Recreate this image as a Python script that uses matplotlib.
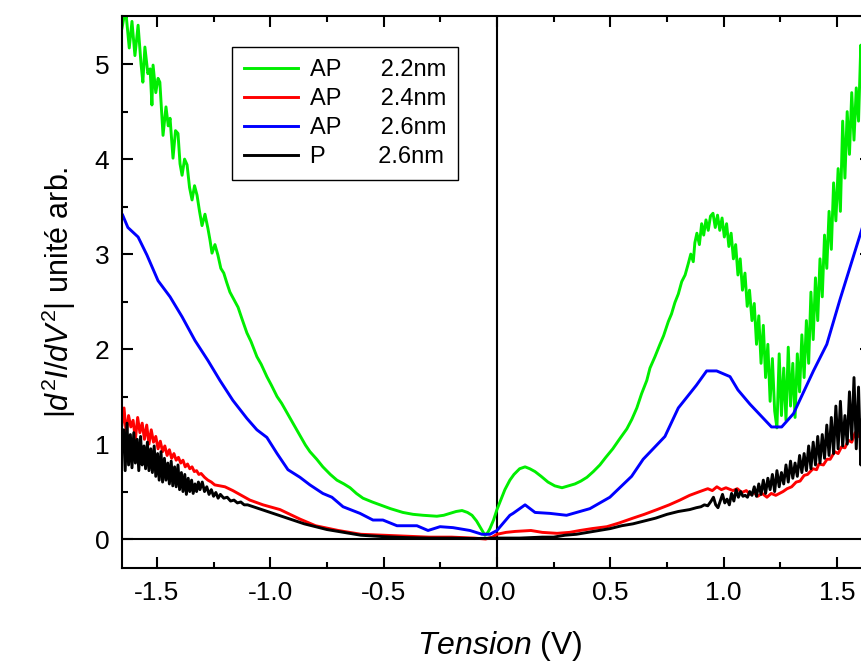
import numpy as np
import matplotlib
matplotlib.use('Agg')
import matplotlib.pyplot as plt
from matplotlib.ticker import MultipleLocator

plt.rcParams['font.family'] = ['Liberation Sans', 'DejaVu Sans']
plt.rcParams['mathtext.fontset'] = 'custom'
plt.rcParams['mathtext.rm'] = 'Liberation Sans'
plt.rcParams['mathtext.it'] = 'Liberation Sans:italic'

# --- data (tension in V, |d2I/dV2| arb. units) ---
ap22_v = [-1.654, -1.645, -1.635, -1.622, -1.610, -1.597, -1.583, -1.570, -1.562, -1.553,
          -1.540, -1.530, -1.522, -1.517, -1.505, -1.495, -1.487, -1.473, -1.460, -1.450,
          -1.442, -1.429, -1.418, -1.407, -1.398, -1.389, -1.378, -1.367, -1.356, -1.345,
          -1.334, -1.323, -1.312, -1.301, -1.288, -1.275, -1.266, -1.257, -1.244, -1.231,
          -1.218, -1.205, -1.192, -1.178,
          -1.160, -1.142, -1.125, -1.103, -1.085, -1.059, -1.040, -1.015, -0.995, -0.970,
          -0.950, -0.926, -0.900, -0.869, -0.845, -0.825, -0.795, -0.768, -0.735, -0.706,
          -0.675, -0.648, -0.620, -0.591, -0.550, -0.516, -0.470, -0.415, -0.370, -0.326,
          -0.265, -0.235, -0.207, -0.180, -0.154, -0.130, -0.110, -0.090, -0.075, -0.053,
          -0.040, -0.031, -0.015, 0.000, 0.015, 0.035, 0.057, 0.075, 0.100, 0.124,
          0.145, 0.168, 0.195, 0.225, 0.255, 0.287, 0.315, 0.344, 0.370, 0.397,
          0.425, 0.454, 0.480, 0.511, 0.540, 0.573, 0.595, 0.617, 0.638, 0.661,
          0.675, 0.697, 0.719, 0.735, 0.756, 0.770, 0.785, 0.800, 0.815, 0.830, 0.844,
          0.855, 0.866, 0.873, 0.882, 0.893, 0.903, 0.912, 0.922, 0.932, 0.942,
          0.953, 0.963, 0.973, 0.983, 0.993, 1.003, 1.013, 1.023, 1.033, 1.043,
          1.053, 1.063, 1.073, 1.083, 1.094, 1.104, 1.114, 1.125, 1.135, 1.145,
          1.155, 1.165, 1.175, 1.185, 1.195, 1.205, 1.215, 1.225, 1.235, 1.245,
          1.255, 1.265, 1.275, 1.285, 1.295, 1.305, 1.315, 1.325, 1.335, 1.345,
          1.355, 1.365, 1.375, 1.385, 1.395, 1.405, 1.415, 1.425, 1.435, 1.445,
          1.455, 1.465, 1.475, 1.485, 1.495, 1.505, 1.515, 1.525, 1.535, 1.545,
          1.555, 1.565, 1.575, 1.585, 1.595, 1.605, 1.615]
ap22_d = [5.38, 5.50, 5.50, 5.17, 5.45, 5.09, 5.41, 5.00, 4.81, 5.18,
          4.90, 4.95, 4.57, 4.99, 4.70, 4.85, 4.81, 4.25, 4.55, 4.35,
          4.43, 4.01, 4.30, 4.27, 3.95, 3.83, 4.00, 3.94, 3.70, 3.57,
          3.72, 3.62, 3.45, 3.30, 3.42, 3.27, 3.15, 3.01, 3.10, 2.99,
          2.85, 2.80, 2.70, 2.60,
          2.52, 2.44, 2.32, 2.17, 2.08, 1.92, 1.84, 1.71, 1.62, 1.50,
          1.43, 1.33, 1.22, 1.09, 0.99, 0.92, 0.84, 0.76, 0.68, 0.62,
          0.58, 0.54, 0.48, 0.43, 0.39, 0.36, 0.32, 0.28, 0.26, 0.25,
          0.24, 0.25, 0.27, 0.29, 0.30, 0.28, 0.25, 0.19, 0.13, 0.04,
          0.07, 0.11, 0.20, 0.31, 0.40, 0.52, 0.62, 0.68, 0.74, 0.76,
          0.74, 0.71, 0.66, 0.60, 0.56, 0.54, 0.56, 0.58, 0.61, 0.65,
          0.71, 0.78, 0.86, 0.95, 1.05, 1.16, 1.26, 1.38, 1.53, 1.67,
          1.80, 1.92, 2.05, 2.14, 2.29, 2.37, 2.49, 2.58, 2.71, 2.78, 2.90,
          3.00, 2.92, 3.12, 3.22, 3.10, 3.32, 3.20, 3.36, 3.25, 3.40,
          3.43, 3.28, 3.41, 3.25, 3.38, 3.18, 3.32, 3.08, 3.22, 2.95,
          3.10, 2.78, 2.95, 2.62, 2.80, 2.45, 2.62, 2.30, 2.48, 2.05,
          2.35, 1.85, 2.25, 1.70, 2.05, 1.45, 1.90, 1.35, 1.17, 1.95,
          1.30, 1.80, 1.25, 2.02, 1.40, 1.85, 1.28, 1.95, 1.55, 2.15,
          1.70, 2.30, 1.85, 2.60, 2.10, 2.75, 2.30, 2.95, 2.55, 3.20,
          2.85, 3.45, 3.05, 3.75, 3.35, 3.90, 3.45, 4.40, 3.80, 4.50,
          4.05, 4.70, 4.20, 4.75, 4.40, 5.20, 4.60]

ap24_v = [-1.654, -1.645, -1.635, -1.625, -1.615, -1.605, -1.595, -1.585, -1.575, -1.565,
          -1.555, -1.545, -1.535, -1.525, -1.515, -1.505, -1.495, -1.485, -1.475, -1.465,
          -1.455, -1.445, -1.435, -1.425, -1.415, -1.405, -1.395, -1.385, -1.375, -1.365,
          -1.355, -1.345, -1.335, -1.325, -1.315, -1.305, -1.290, -1.275, -1.260, -1.245,
          -1.200, -1.165, -1.090, -1.032, -0.957, -0.869, -0.800, -0.700, -0.600, -0.500,
          -0.400, -0.300, -0.200, -0.100, -0.050, -0.020, 0.000, 0.040, 0.080, 0.150,
          0.200, 0.265, 0.320, 0.366, 0.420, 0.485, 0.540, 0.600, 0.650, 0.706,
          0.760, 0.807, 0.850, 0.895, 0.930, 0.950, 0.970, 0.990, 1.010, 1.041,
          1.060, 1.080, 1.100, 1.116, 1.135, 1.150, 1.170, 1.191, 1.210, 1.230,
          1.262, 1.280, 1.300, 1.320, 1.337, 1.355, 1.370, 1.394, 1.410, 1.420,
          1.440, 1.456, 1.470, 1.490, 1.505, 1.520, 1.535, 1.550, 1.565, 1.580,
          1.595, 1.612]
ap24_d = [1.20, 1.38, 1.10, 1.30, 1.18, 1.25, 1.05, 1.28, 1.12, 1.22,
          1.05, 1.20, 1.00, 1.15, 1.02, 1.08, 0.95, 1.03, 0.92, 0.98,
          0.88, 0.94, 0.85, 0.90, 0.83, 0.86, 0.80, 0.83, 0.76, 0.79,
          0.74, 0.76, 0.71, 0.72, 0.68, 0.69, 0.65, 0.62, 0.60, 0.57,
          0.55, 0.51, 0.41, 0.36, 0.31, 0.21, 0.14, 0.09, 0.05, 0.04,
          0.03, 0.02, 0.02, 0.01, 0.00, 0.02, 0.05, 0.07, 0.08, 0.09,
          0.07, 0.06, 0.07, 0.09, 0.11, 0.13, 0.17, 0.22, 0.26, 0.31,
          0.36, 0.41, 0.46, 0.50, 0.53, 0.51, 0.55, 0.52, 0.54, 0.51,
          0.53, 0.49, 0.51, 0.47, 0.49, 0.45, 0.48, 0.44, 0.48, 0.46,
          0.50, 0.53, 0.55, 0.60, 0.61, 0.67, 0.68, 0.74, 0.73, 0.79,
          0.78, 0.84, 0.84, 0.92, 0.90, 0.97, 0.96, 1.04, 1.02, 1.12,
          1.08, 1.20]

ap26_v = [-1.651, -1.628, -1.583, -1.544, -1.495, -1.442, -1.389, -1.332, -1.275, -1.222,
          -1.165, -1.103, -1.059, -1.015, -0.970, -0.922, -0.869, -0.825, -0.768, -0.728,
          -0.679, -0.604, -0.547, -0.503, -0.441, -0.353, -0.304, -0.251, -0.194, -0.119,
          -0.066, -0.031, 0.000, 0.057, 0.071, 0.124, 0.168, 0.234, 0.307, 0.410,
          0.498, 0.594, 0.645, 0.741, 0.800, 0.880, 0.925, 0.969, 1.028, 1.063,
          1.116, 1.211, 1.256, 1.308, 1.396, 1.455, 1.513, 1.612]
ap26_d = [3.41, 3.28, 3.18, 2.99, 2.72, 2.55, 2.34, 2.09, 1.88, 1.67,
          1.46, 1.27, 1.15, 1.07, 0.90, 0.73, 0.65, 0.57, 0.48, 0.44,
          0.34, 0.27, 0.20, 0.20, 0.14, 0.14, 0.09, 0.13, 0.12, 0.09,
          0.05, 0.05, 0.09, 0.25, 0.27, 0.36, 0.28, 0.27, 0.25, 0.32,
          0.44, 0.66, 0.84, 1.08, 1.38, 1.62, 1.77, 1.77, 1.71, 1.57,
          1.42, 1.18, 1.18, 1.32, 1.77, 2.05, 2.52, 3.28]

p26_v = [-1.654, -1.647, -1.640, -1.632, -1.625, -1.617, -1.610, -1.602, -1.595, -1.587,
         -1.580, -1.572, -1.565, -1.557, -1.550, -1.542, -1.535, -1.527, -1.520, -1.512,
         -1.505, -1.497, -1.490, -1.482, -1.475, -1.467, -1.460, -1.452, -1.445, -1.437,
         -1.430, -1.422, -1.415, -1.407, -1.400, -1.392, -1.385, -1.377, -1.370, -1.362,
         -1.355, -1.347, -1.340, -1.332, -1.325, -1.317, -1.310, -1.300, -1.290, -1.280,
         -1.270, -1.260, -1.250, -1.240, -1.230, -1.220, -1.205, -1.190, -1.175, -1.160,
         -1.145, -1.130, -1.115, -1.100,
         -1.050, -1.000, -0.950, -0.900, -0.850, -0.800, -0.750, -0.700, -0.650, -0.600,
         -0.500, -0.400, -0.300, -0.200, -0.100, 0.000, 0.100, 0.200, 0.250, 0.300,
         0.350, 0.400, 0.450, 0.500, 0.550, 0.600, 0.650, 0.700, 0.750, 0.800,
         0.850, 0.880,
         0.900, 0.915, 0.930, 0.945, 0.955, 0.965, 0.975, 0.985, 0.995, 1.005,
         1.015, 1.025, 1.035, 1.045, 1.055, 1.065, 1.075, 1.085, 1.095, 1.105,
         1.115, 1.125, 1.135, 1.145, 1.155, 1.165, 1.175, 1.185, 1.195, 1.205,
         1.215, 1.225, 1.235, 1.245, 1.255, 1.265, 1.275, 1.285, 1.295, 1.305,
         1.315, 1.325, 1.335, 1.345, 1.355, 1.365, 1.375, 1.385, 1.395, 1.405,
         1.415, 1.425, 1.435, 1.445, 1.455, 1.465, 1.475, 1.485, 1.495, 1.505,
         1.515, 1.525, 1.535, 1.545, 1.555, 1.565, 1.575, 1.585, 1.595, 1.605, 1.612]
p26_d = [0.95, 1.15, 0.72, 1.22, 0.78, 1.10, 0.75, 1.12, 0.80, 1.05,
         0.72, 1.08, 0.78, 0.98, 0.74, 1.02, 0.72, 0.95, 0.70, 0.98,
         0.66, 0.90, 0.62, 0.92, 0.60, 0.85, 0.62, 0.80, 0.58, 0.82,
         0.56, 0.76, 0.55, 0.78, 0.52, 0.70, 0.50, 0.68, 0.47, 0.64,
         0.50, 0.62, 0.48, 0.58, 0.50, 0.60, 0.52, 0.60, 0.50, 0.55,
         0.47, 0.52, 0.45, 0.49, 0.43, 0.47, 0.43, 0.44, 0.40, 0.41,
         0.38, 0.39, 0.36, 0.36,
         0.32, 0.28, 0.24, 0.20, 0.16, 0.13, 0.10, 0.08, 0.06, 0.04,
         0.025, 0.015, 0.01, 0.01, 0.005, 0.01, 0.01, 0.02, 0.02, 0.04,
         0.05, 0.07, 0.09, 0.11, 0.14, 0.16, 0.19, 0.22, 0.26, 0.29,
         0.31, 0.33,
         0.34, 0.36, 0.35, 0.40, 0.44, 0.36, 0.33, 0.40, 0.47, 0.38,
         0.42, 0.36, 0.48, 0.40, 0.52, 0.44, 0.50, 0.45, 0.46, 0.44,
         0.50, 0.46, 0.55, 0.45, 0.58, 0.47, 0.62, 0.48, 0.64, 0.52,
         0.68, 0.50, 0.72, 0.55, 0.70, 0.58, 0.78, 0.60, 0.82, 0.64,
         0.80, 0.66, 0.88, 0.70, 0.90, 0.72, 0.98, 0.74, 1.02, 0.78,
         1.08, 0.80, 1.10, 0.85, 1.20, 0.88, 1.28, 0.90, 1.40, 0.95,
         1.45, 0.98, 1.30, 1.00, 1.55, 1.05, 1.70, 0.95, 1.60, 0.78, 1.40]

series = [
    (ap22_v, ap22_d, '#00ee00', 'AP      2.2nm'),
    (ap24_v, ap24_d, '#ff0000', 'AP      2.4nm'),
    (ap26_v, ap26_d, '#0000ff', 'AP      2.6nm'),
    (p26_v, p26_d, '#000000', 'P        2.6nm'),
]

fig = plt.figure(figsize=(8.62, 6.63), dpi=100)
W, H = 862, 663
ax = fig.add_axes([122 / W, (H - 568) / H, (871 - 122) / W, (568 - 15.7) / H])

for v, d, c, lab in series:
    ax.plot(v, d, color=c, lw=2.1, label=lab)

ax.axhline(0, color='black', lw=1.5, zorder=1)
ax.axvline(0, color='black', lw=1.5, zorder=1)

ax.set_xlim(-1.654, 1.65)
ax.set_ylim(-0.305, 5.51)
ax.xaxis.set_major_locator(MultipleLocator(0.5))
ax.xaxis.set_minor_locator(MultipleLocator(0.25))
ax.yaxis.set_major_locator(MultipleLocator(1))
ax.yaxis.set_minor_locator(MultipleLocator(0.5))
ax.xaxis.set_major_formatter(matplotlib.ticker.FormatStrFormatter('%.1f'))
ax.tick_params(which='both', direction='in', top=True, right=True, width=1.5,
               labelsize=19)
ax.tick_params(which='major', length=8, pad=9)
ax.tick_params(which='minor', length=4)
for s in ax.spines.values():
    s.set_linewidth(1.5)

ax.set_xlabel(r'$Tension$ (V)', fontsize=23)
ax.xaxis.set_label_coords((500 - 122) / (871 - 122), -(629 - 568) / (568 - 15.7))
ax.set_ylabel(r'$|d^2I/dV^2|$ unité arb.', fontsize=22, labelpad=12)

leg = ax.legend(loc='upper left', bbox_to_anchor=(232 / W, 1 - 47 / H),
                bbox_transform=fig.transFigure, borderaxespad=0,
                fontsize=17, handlelength=2.3, handletextpad=0.5,
                labelspacing=0.3, fancybox=False, framealpha=1,
                edgecolor='black', borderpad=0.5)
leg.get_frame().set_linewidth(1.0)

fig.savefig('out.png', dpi=100)
